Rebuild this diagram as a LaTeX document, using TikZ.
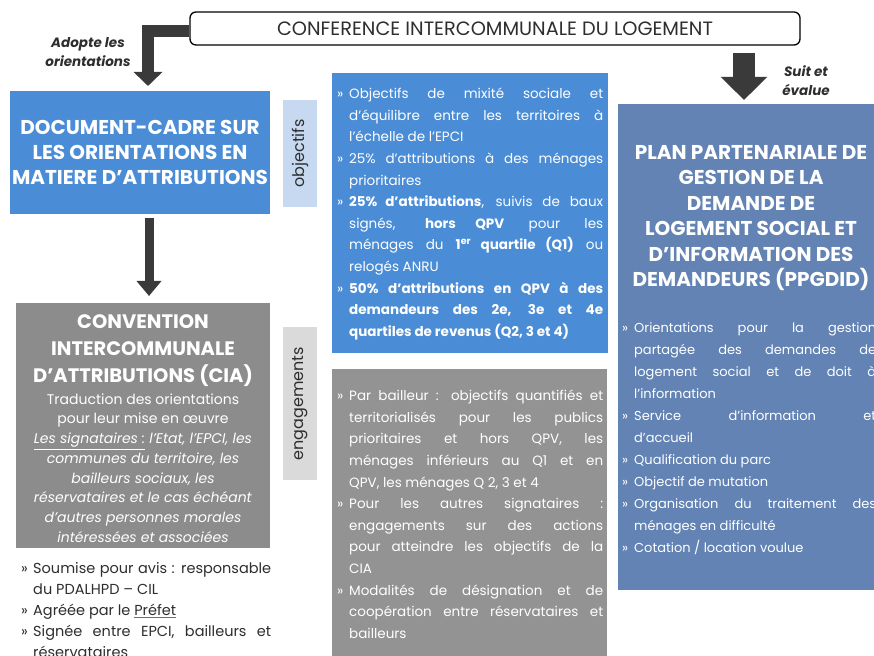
\documentclass[tikz,border=0pt]{standalone}
\usepackage{fontspec}
\setmainfont{Poppins}
\usepackage{xcolor}
\usetikzlibrary{arrows.meta,positioning}

\definecolor{cilblue}{HTML}{4A8DD6}
\definecolor{ppgblue}{HTML}{6283B3}
\definecolor{ciagray}{HTML}{8C8C8C}
\definecolor{enggray}{HTML}{939393}
\definecolor{tagblue}{HTML}{C6D9F1}
\definecolor{taggray}{HTML}{DADADA}
\definecolor{arrowgray}{HTML}{3A3A3A}
\definecolor{ink}{HTML}{2E2E2E}
\definecolor{spellblue}{HTML}{4472C4}

\newcommand\puce{\par\hangindent=12pt\hangafter=1\noindent\makebox[12pt][l]{»}}
\newcommand\spellmark[1]{\setbox0\hbox{#1}\rlap{\color{spellblue}\rule[-2.5pt]{\wd0}{0.9pt}}#1}

\begin{document}
\begin{tikzpicture}[x=1pt, y=1pt,
  panel/.style={anchor=north west, inner sep=0pt, outer sep=0pt},
  head/.style={text=white, align=center, inner sep=0pt, font=\bfseries\fontsize{20}{25}\selectfont},
  items/.style={anchor=north west, inner sep=0pt, align=justify},
  tag/.style={rotate=90, minimum height=34pt, inner sep=0pt, text=ink, font=\fontsize{16}{18}\selectfont},
  note/.style={align=center, text=ink, font=\bfseries\itshape\fontsize{13.5}{19}\selectfont},
  bentarr/.style={draw=arrowgray, line width=12pt, -{Triangle[width=28pt,length=14pt]}},
  downarr/.style={draw=arrowgray, line width=9pt, -{Triangle[width=24pt,length=15pt]}},
  fatarr/.style={draw=arrowgray, line width=22pt, -{Triangle[width=45pt,length=23pt]}}
]
\useasboundingbox[fill=white] (0,0) rectangle (874,655);

% conference en haut
\node[draw=black, line width=1.3pt, rounded corners=6pt, fill=white, minimum width=610pt, minimum height=33pt,
  text=ink, font=\fontsize{19.3}{21}\selectfont] (conf) at (495,626.5) {CONFERENCE INTERCOMMUNALE DU LOGEMENT};

% colonne de gauche
\node[panel, fill=cilblue, minimum width=260pt, minimum height=123pt, head] (doc) at (10,564)
  {DOCUMENT-CADRE SUR\\LES ORIENTATIONS EN\\MATIERE D'ATTRIBUTIONS};
\node[panel, fill=ciagray, minimum width=254pt, minimum height=245pt] (cia) at (16,352) {};
\node[head, font=\bfseries\fontsize{19.5}{27}\selectfont, below=11pt of cia.north] (ciahead)
  {CONVENTION\\INTERCOMMUNALE\\D'ATTRIBUTIONS (CIA)};
\node[text=white, align=center, inner sep=0pt, font=\fontsize{14}{19.7}\selectfont, below=7pt of ciahead] (ciabody)
  {Traduction des orientations\\pour leur mise en œuvre\\
   \textit{\underline{Les signataires :} l'Etat, l'EPCI, les}\\
   \textit{communes du territoire, les}\\
   \textit{bailleurs sociaux, les}\\
   \textit{réservataires et le cas échéant}\\
   \textit{d'autres personnes morales}\\
   \textit{intéressées et associées}};
\node[items, text=ink, text width=250pt, font=\fontsize{14.5}{21}\selectfont] (cialist) at (21,103)
  {\puce Soumise pour avis : responsable\linebreak du PDALHPD – CIL
   \puce Agréée par le \spellmark{Préfet}
   \puce Signée entre EPCI, bailleurs et\linebreak réservataires\par};

% etiquettes
\node[tag, fill=tagblue, minimum width=107pt] (objtag) at (300,501.5) {objectifs};
\node[tag, fill=taggray, minimum width=153pt] (engtag) at (300,251.5) {engagements};

% colonne du milieu
\node[panel, fill=cilblue, minimum width=276pt, minimum height=280pt] (obj) at (332,582) {};
\node[items, text=white, text width=266pt, font=\fontsize{13.5}{21.6}\selectfont] (objlist)
  at ([xshift=5pt,yshift=-4pt]obj.north west)
  {\puce Objectifs de mixité sociale et\linebreak d'équilibre entre les territoires à\linebreak l'échelle de l'EPCI
   \puce 25\% d'attributions à des ménages\linebreak prioritaires
   \puce \textbf{25\% d'attributions}, suivis de baux\linebreak signés, \textbf{hors QPV} pour les\linebreak
     ménages du \textbf{1\textsuperscript{er} quartile (Q1)} ou\linebreak relogés ANRU
   \puce \textbf{50\% d'attributions en QPV à des\linebreak demandeurs des 2e, 3e et 4e\linebreak quartiles de revenus (Q2, 3 et 4)}\par};
\node[panel, fill=enggray, minimum width=275pt, minimum height=300pt] (eng) at (332,286) {};
\node[items, text=white, text width=266pt, font=\fontsize{13.5}{21.6}\selectfont] (englist)
  at ([xshift=5pt,yshift=-10pt]eng.north west)
  {\puce Par bailleur : objectifs quantifiés et\linebreak territorialisés pour les publics\linebreak
     prioritaires et hors QPV, les\linebreak ménages inférieurs au Q1 et en\linebreak QPV, les ménages Q 2, 3 et 4
   \puce Pour les autres signataires :\linebreak engagements sur des actions\linebreak pour atteindre les objectifs de la\linebreak CIA
   \puce Modalités de désignation et de\linebreak coopération entre réservataires et\linebreak bailleurs\par};

% colonne de droite
\node[panel, fill=ppgblue, minimum width=266pt, minimum height=486pt] (ppg) at (618,551) {};
\node[head, font=\bfseries\fontsize{20}{25.5}\selectfont, below=41pt of ppg.north] (ppghead)
  {PLAN PARTENARIALE DE\\GESTION DE LA\\DEMANDE DE\\LOGEMENT SOCIAL ET\\D'INFORMATION DES\\DEMANDEURS (PPGDID)};
\node[items, text=white, text width=254pt, font=\fontsize{13}{22}\selectfont] (ppglist) at (622,345)
  {\puce Orientations pour la gestion\linebreak partagée des demandes de\linebreak logement social et de doit à\linebreak l'information
   \puce Service d'information et\linebreak d'accueil
   \puce Qualification du parc
   \puce Objectif de mutation
   \puce Organisation du traitement des\linebreak ménages en difficulté
   \puce Cotation / location voulue\par};

% fleches
\coordinate (bend) at (148,569);
\coordinate (evaltop) at (744,602);
\draw[bentarr] ([yshift=-3pt]conf.west) -| (bend);
\draw[downarr, shorten <=4pt, shorten >=7pt] ([xshift=9pt]doc.south) -- ([xshift=6pt]cia.north);
\draw[fatarr, shorten >=4pt] (evaltop) -- (evaltop |- ppg.north);
\node[note] (adopte) at (88,603) {Adopte les\\orientations};
\node[note] (suit) at (806,574) {Suit et\\évalue};
\end{tikzpicture}
\end{document}
